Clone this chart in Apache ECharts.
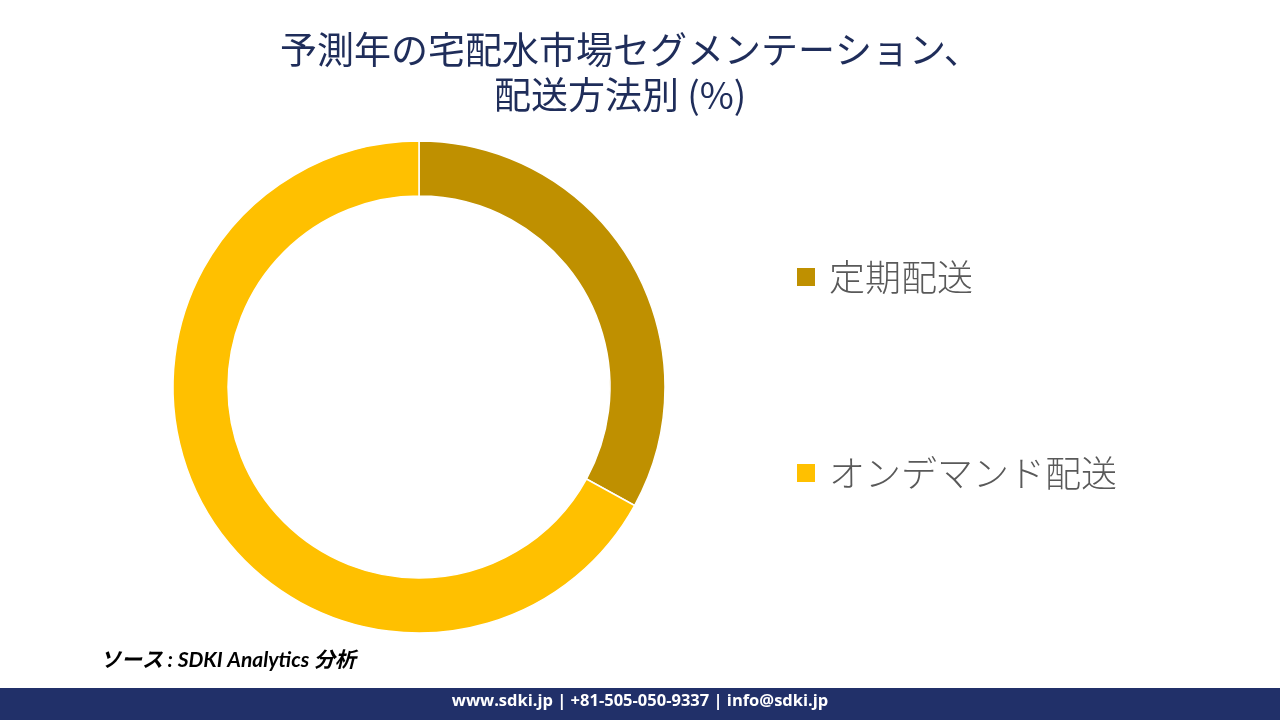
<!DOCTYPE html>
<html><head><meta charset="utf-8">
<script src="https://cdn.jsdelivr.net/npm/echarts@6/dist/echarts.min.js"></script>
<style>html,body{margin:0;padding:0;background:#fff}#c{width:1280px;height:720px}</style>
</head><body><div id="c"></div>
<script>
const categories = ['定期配送', 'オンデマンド配送'];
const values = [33, 67];
const colors = ['#BF9000', '#FFC000'];
const titleLines = ['予測年の宅配水市場セグメンテーション、', '配送方法別 (%)'];
const sourceText = 'ソース : SDKI Analytics 分析';
const footerText = 'www.sdki.jp | +81-505-050-9337 | info@sdki.jp';

const chart = echarts.init(document.getElementById('c'));
chart.setOption({
  backgroundColor: '#fff',
  animation: false,
  legend: {
    orient: 'vertical',
    left: 790,
    top: 252,
    icon: 'rect',
    itemWidth: 20,
    itemHeight: 20,
    itemGap: 156,
    data: categories,
    textStyle: { fontSize: 36, fontWeight: 300, color: '#595959', fontFamily: 'Noto Sans CJK JP', lineHeight: 40, padding: [0, 0, 0, 8] }
  },
  series: [{
    type: 'pie',
    center: [419, 387],
    radius: [191, 246],
    startAngle: 90,
    clockwise: true,
    label: { show: false },
    labelLine: { show: false },
    itemStyle: { borderColor: '#fff', borderWidth: 1.5 },
    data: categories.map((n, i) => ({ name: n, value: values[i], itemStyle: { color: colors[i] } }))
  }],
  graphic: [
    { type: 'text', left: 280, top: 31, style: { text: titleLines[0], fontSize: 37, fill: '#1F2D5A', fontFamily: 'Noto Sans CJK JP' } },
    { type: 'text', left: 494, top: 76, style: { text: titleLines[1], fontSize: 37, fill: '#1F2D5A', fontFamily: 'Noto Sans CJK JP' } },
    { type: 'text', left: 100, top: 650, style: { text: sourceText, fontSize: 21, fill: '#000', fontStyle: 'italic', fontWeight: 'bold', fontFamily: 'Lato, Noto Sans CJK JP' } },
    { type: 'rect', left: 0, top: 688, shape: { width: 1280, height: 32 }, style: { fill: '#213069' } },
    { type: 'text', left: 'center', top: 693, style: { text: footerText, fontSize: 16.5, fill: '#fff', fontWeight: 'bold', fontFamily: 'Open Sans, DejaVu Sans' } }
  ]
});
</script></body></html>
